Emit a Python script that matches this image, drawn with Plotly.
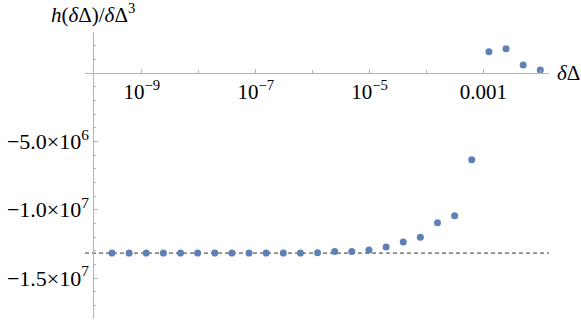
import plotly.graph_objects as go

# data
x_vals = [0.01 / 2**k for k in range(25, -1, -1)]
y_vals = [-1.3175e7, -1.3175e7, -1.3175e7, -1.3175e7, -1.3175e7, -1.3175e7,
          -1.3175e7, -1.3175e7, -1.3175e7, -1.3175e7, -1.3175e7, -1.3175e7,
          -1.316e7, -1.307e7, -1.307e7, -1.295e7, -1.273e7, -1.236e7,
          -1.201e7, -1.095e7, -1.045e7, -6.35e6, 1.56e6, 1.78e6, 5.9e5, 2.2e5]
asymptote = -1.318e7

x_tickvals = [1e-9, 1e-7, 1e-5, 1e-3]
x_ticktext = ["10<sup>−9</sup>", "10<sup>−7</sup>", "10<sup>−5</sup>", "0.001"]
x_minor = [1e-10, 1e-8, 1e-6, 1e-4, 1e-2]
y_tickvals = [-1.5e7, -1.0e7, -5.0e6]
y_ticktext = ["−1.5×10<sup>7</sup>", "−1.0×10<sup>7</sup>", "−5.0×10<sup>6</sup>"]

FONT = "Liberation Serif"
AXC = "#b4b4b4"

fig = go.Figure()
fig.add_trace(go.Scatter(
    x=x_vals, y=y_vals, mode="markers",
    marker=dict(color="#5E81B5", size=7),
    showlegend=False, cliponaxis=False,
))

fig.add_shape(type="line", xref="paper", yref="y", x0=0, x1=1,
              y0=asymptote, y1=asymptote,
              line=dict(color="#8a8a8a", width=1.6, dash="4px,3px"), layer="below")

yzero_paper = 1.8e7 / (1.8e7 + 3.0e6)

fig.update_layout(
    width=581, height=321,
    margin=dict(l=85, r=32, t=32, b=2),
    paper_bgcolor="white", plot_bgcolor="white",
    font=dict(family=FONT, size=21, color="black"),
    xaxis=dict(
        type="log", range=[-10, -1.847], automargin=False,
        tickmode="array", tickvals=x_tickvals, ticktext=x_ticktext,
        showgrid=False, zeroline=False,
        showline=True, linecolor=AXC, linewidth=1,
        ticks="inside", ticklen=4, tickcolor=AXC, tickwidth=1,
        anchor="free", position=yzero_paper,
        minor=dict(tickmode="array", tickvals=x_minor, ticks="inside",
                   ticklen=3, tickcolor=AXC, showgrid=False),
        tickfont=dict(family=FONT, size=21),
    ),
    yaxis=dict(
        range=[-1.8e7, 3.0e6], automargin=False,
        tickmode="array", tickvals=y_tickvals, ticktext=y_ticktext,
        showgrid=False, zeroline=False,
        showline=True, linecolor=AXC, linewidth=1,
        ticks="inside", ticklen=4, tickcolor=AXC, tickwidth=1,
        anchor="free", position=0.018,
        minor=dict(tickmode="linear", tick0=0, dtick=1e6, ticks="inside",
                   ticklen=2, tickcolor=AXC, showgrid=False),
        tickfont=dict(family=FONT, size=22),
    ),
    annotations=[
        dict(text="<i>h</i>(<i>δ</i>Δ)/<i>δ</i>Δ<sup>3</sup>",
             xref="paper", yref="paper", x=0.018, y=1, yshift=19,
             xanchor="center", yanchor="middle", showarrow=False,
             font=dict(family=FONT, size=21)),
        dict(text="<i>δ</i>Δ",
             xref="paper", yref="paper", x=1, y=yzero_paper, xshift=6,
             xanchor="left", yanchor="middle", showarrow=False,
             font=dict(family=FONT, size=21)),
    ],
)

fig.write_html("out.html", config={"displayModeBar": False},
               post_script="document.body.style.margin='0';document.body.style.overflow='hidden';")
